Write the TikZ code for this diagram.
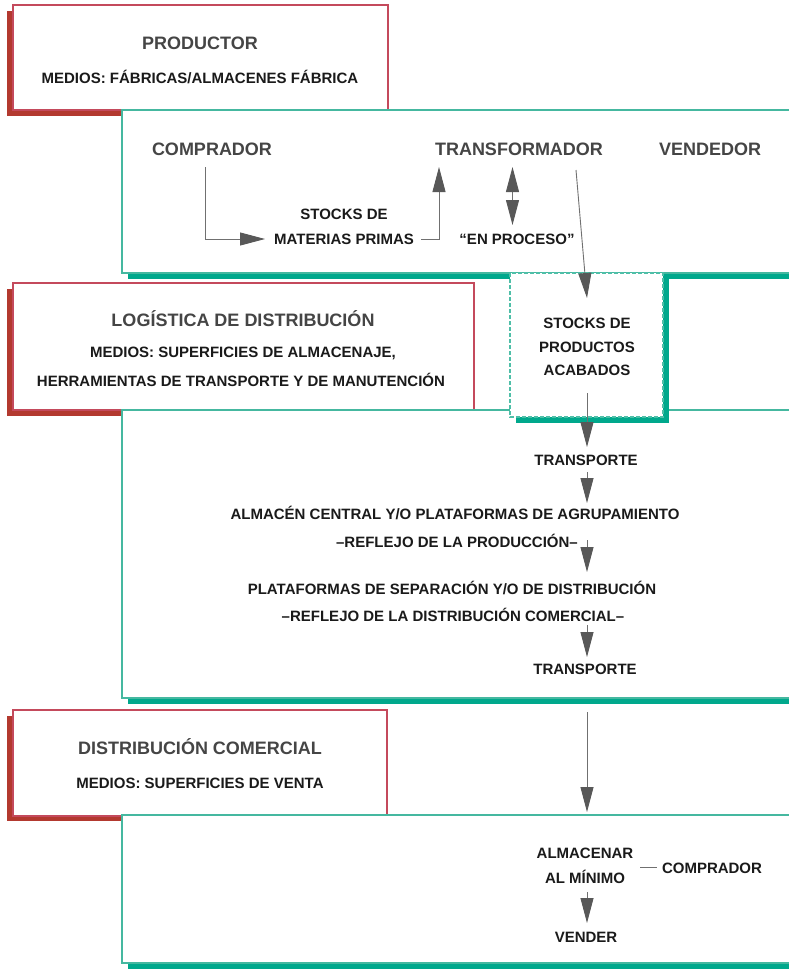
\documentclass[tikz,border=0pt]{standalone}
\usepackage{fontspec}
\setmainfont{Liberation Sans}
\usetikzlibrary{arrows.meta}
\definecolor{redb}{HTML}{C44A5C}
\definecolor{redsh}{HTML}{B3392F}
\definecolor{tealb}{HTML}{45B8A0}
\definecolor{tealdash}{HTML}{4FBFA8}
\definecolor{tealsh}{HTML}{00A88C}
\definecolor{titlec}{HTML}{454545}
\definecolor{bodyc}{HTML}{1A1A1A}
\definecolor{linec}{HTML}{707070}
\definecolor{headc}{HTML}{585858}
\begin{document}
\begin{tikzpicture}[x=1pt,y=-1pt,
  ttl/.style={font=\fontsize{18}{20}\selectfont\bfseries, text=titlec, anchor=base, inner sep=0pt},
  txt/.style={font=\fontsize{15}{18}\selectfont\bfseries, text=bodyc, anchor=base, inner sep=0pt},
  redbox/.style={draw=redb, line width=1.2pt, fill=white},
  redshadow/.style={fill=redsh},
  tealbox/.style={draw=tealb, line width=1.2pt, fill=white},
  tealshadow/.style={fill=tealsh},
  stockbox/.style={draw=tealdash, line width=1.2pt, dash pattern=on 4pt off 2pt, fill=white},
  conn/.style={draw=linec, line width=0.9pt},
  arrowhd/.style={-{Triangle[length=25pt,width=13pt,color=headc]}},
  dblarrow/.style={{Triangle[length=25pt,width=13pt,color=headc]}-{Triangle[length=25pt,width=13pt,color=headc]}},
]
\fill[white] (0,0) rectangle (789,969);
\clip (0,0) rectangle (789,969);

% ---- box 1: productor
\fill[redshadow] (7,11) rectangle (382,116);
\draw[redbox] (13,5) rectangle (388,110);
% ---- box 2
\fill[tealshadow] (128,116) rectangle (800,279);
\draw[tealbox] (122,110) rectangle (800,273);
% ---- box 3: logistica
\fill[redshadow] (7,289) rectangle (468,416);
\draw[redbox] (13,283) rectangle (474,410);
% ---- box 4
\fill[tealshadow] (128,416) rectangle (800,704);
\draw[tealbox] (122,410) rectangle (800,698);
% ---- stocks box
\fill[tealshadow] (516,279) rectangle (669,423);
\draw[stockbox] (510,273) rectangle (663,417);
% ---- box 5: distribucion comercial
\fill[redshadow] (7,716) rectangle (381,821);
\draw[redbox] (13,710) rectangle (387,816);
% ---- box 6
\fill[tealshadow] (128,821) rectangle (800,975);
\draw[tealbox] (122,815) rectangle (800,963);

% ---- texts
\node[ttl] (prod) at (200,49) {PRODUCTOR};
\node[txt] (medios1) at (200,83.5) {MEDIOS: FÁBRICAS/ALMACENES FÁBRICA};

\node[ttl] (comp) at (212,155) {COMPRADOR};
\node[ttl] (transf) at (519,155) {TRANSFORMADOR};
\node[ttl] (vend) at (710,155) {VENDEDOR};
\node[txt] (stk1) at (344,219) {STOCKS DE};
\node[txt] (mat) at (344,244) {MATERIAS PRIMAS};
\node[txt] (proc) at (517,244) {“EN PROCESO”};

\node[ttl] (logi) at (243,326) {LOGÍSTICA DE DISTRIBUCIÓN};
\node[txt] (medios2) at (243,357.5) {MEDIOS: SUPERFICIES DE ALMACENAJE,};
\node[txt] (herr) at (241,386) {HERRAMIENTAS DE TRANSPORTE Y DE MANUTENCIÓN};

\node[txt] (spa1) at (587,328.5) {STOCKS DE};
\node[txt] (spa2) at (587,352.5) {PRODUCTOS};
\node[txt] (spa3) at (587,375.5) {ACABADOS};

\node[txt] (trans1) at (586,465.5) {TRANSPORTE};
\node[txt] (alm) at (455,519.5) {ALMACÉN CENTRAL Y/O PLATAFORMAS DE AGRUPAMIENTO};
\node[txt] (ref1) at (457,547.5) {–REFLEJO DE LA PRODUCCIÓN–};
\node[txt] (plat) at (452,594.5) {PLATAFORMAS DE SEPARACIÓN Y/O DE DISTRIBUCIÓN};
\node[txt] (ref2) at (453,621.5) {–REFLEJO DE LA DISTRIBUCIÓN COMERCIAL–};
\node[txt] (trans2) at (585,674.5) {TRANSPORTE};

\node[ttl] (dcom) at (200,754) {DISTRIBUCIÓN COMERCIAL};
\node[txt] (medios3) at (200,788.5) {MEDIOS: SUPERFICIES DE VENTA};

\node[txt] (almac1) at (585,858.5) {ALMACENAR};
\node[txt] (almac2) at (585,883) {AL MÍNIMO};
\node[txt] (comp2) at (712,873) {COMPRADOR};
\node[txt] (vender) at (586,942) {VENDER};

% ---- connector end points
\coordinate (c1) at (205,167);
\coordinate (c2) at (265,239);
\coordinate (m1) at (421,239);
\coordinate (m2) at (439,167);
\coordinate (d1) at (512.5,167);
\coordinate (d2) at (512.5,225);
\coordinate (t1) at (576,170);
\coordinate (t2) at (587,298);
\coordinate (s1) at (587,393);
\coordinate (s2) at (587,447);
\coordinate (r1) at (587,472);
\coordinate (r2) at (587,503);
\coordinate (r3) at (587,540);
\coordinate (r4) at (587,572);
\coordinate (r5) at (587,625);
\coordinate (r6) at (587,657);
\coordinate (r7) at (587,712);
\coordinate (r8) at (587,812);
\coordinate (r9) at (587,892);
\coordinate (r10) at (587,923);
\coordinate (h1) at (640,867);
\coordinate (h2) at (657,867);

% ---- connectors
\draw[conn,arrowhd] (c1) |- (c2);
\draw[conn,arrowhd] (m1) -| (m2);
\draw[conn,dblarrow] (d1) -- (d2);
\draw[conn,arrowhd] (t1) -- (t2);
\draw[conn,arrowhd] (s1) -- (s2);
\draw[conn,arrowhd] (r1) -- (r2);
\draw[conn,arrowhd] (r3) -- (r4);
\draw[conn,arrowhd] (r5) -- (r6);
\draw[conn,arrowhd] (r7) -- (r8);
\draw[conn,arrowhd] (r9) -- (r10);
\draw[conn] (h1) -- (h2);
\end{tikzpicture}
\end{document}
